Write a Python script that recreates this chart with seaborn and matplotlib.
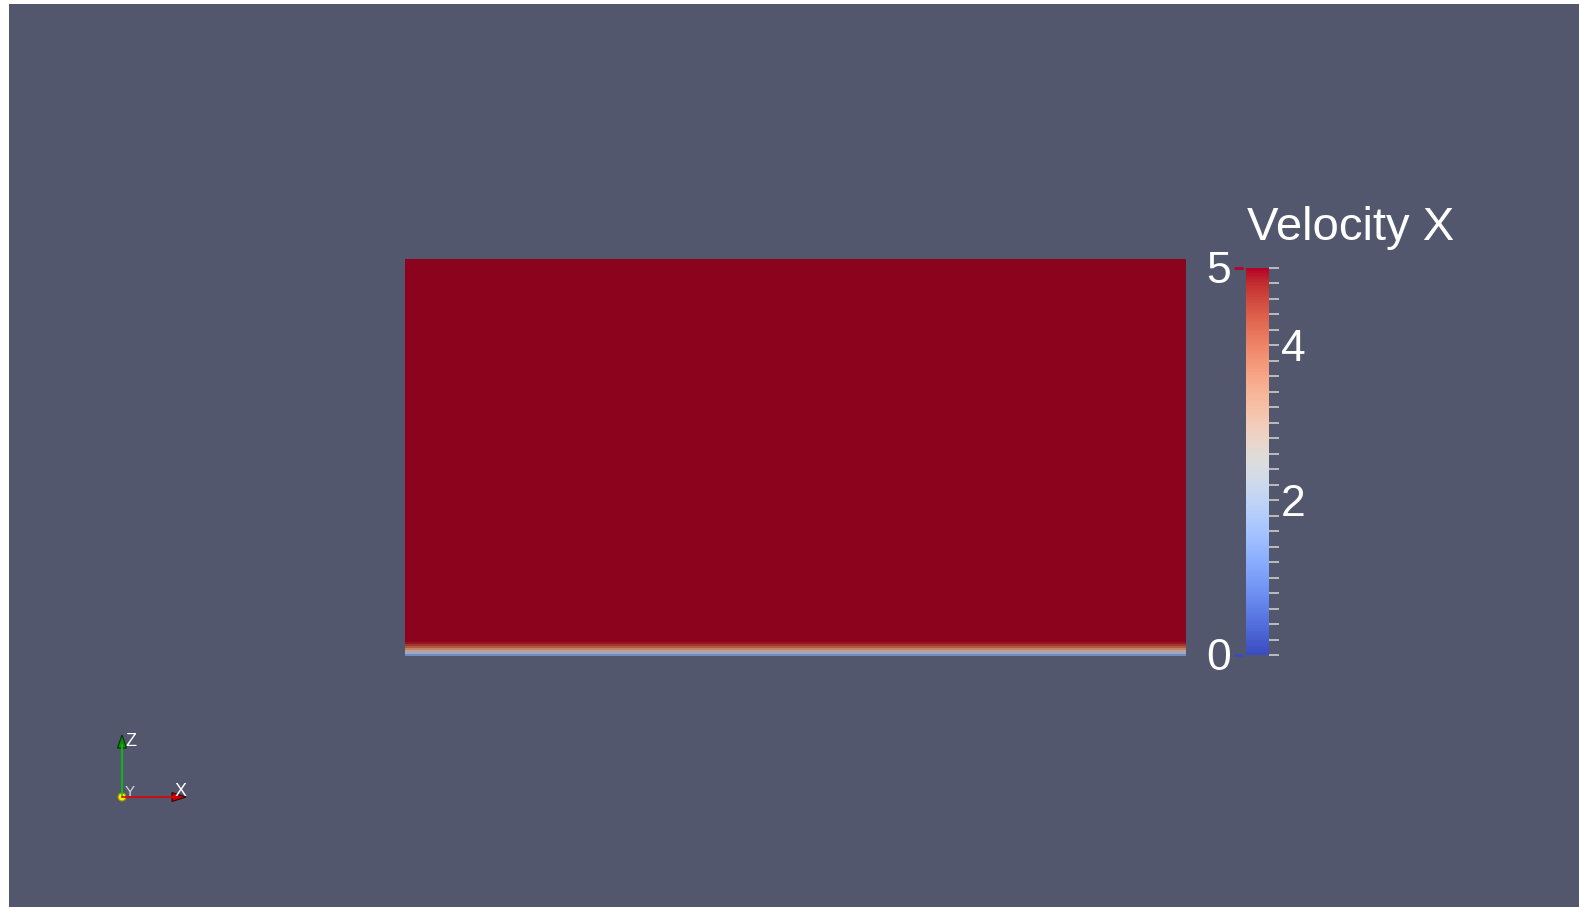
import numpy as np
import matplotlib
matplotlib.use("Agg")
import matplotlib.pyplot as plt
import seaborn as sns
from matplotlib.colors import ListedColormap, Normalize
from matplotlib.cm import ScalarMappable
from matplotlib.patches import Rectangle, Polygon, Circle
from matplotlib.transforms import blended_transform_factory

# --- field data: streamwise velocity over a 2D channel slice ---------------
domain_x = [0.0, 2.0]                       # streamwise extent (m)
z_edges = [0.0, 0.005, 0.010, 0.015, 0.020, 0.025, 0.030, 0.036, 1.0]  # cell faces (m)
velocity_x = [1.3, 2.2, 2.9, 3.6, 4.2, 4.6, 4.9, 5.0]                # cell values (m/s)

# --- colour bar annotation ---------------------------------------------------
v_range = [0.0, 5.0]
major_ticks = [2, 4]
major_labels = ["2", "4"]
minor_step = 0.2
bar_title = "Velocity X"

sns.set_theme(style="white")
plt.rcParams["font.family"] = ["Liberation Sans", "DejaVu Sans"]

W, H = 1579, 907
BG = "#52576E"
fig = plt.figure(figsize=(W / 100, H / 100), dpi=100, facecolor="white")
fig.patches.append(Rectangle((9 / W, 0), 1 - 9 / W, 1 - 4 / H,
                             transform=fig.transFigure, facecolor=BG,
                             edgecolor="none", zorder=-10))

cool_warm = sns.color_palette("coolwarm", as_cmap=True)
# surface shading of the lit slice darkens the rendered colours
shade = 0.78
lut = cool_warm(np.linspace(0, 1, 256))
lut[:, :3] *= shade
surface_cmap = ListedColormap(lut)

# --- the slice ---------------------------------------------------------------
ax = fig.add_axes([405 / W, (H - 656) / H, 781 / W, 397 / H])
vals = np.asarray(velocity_x)[:, None]
ax.pcolormesh(domain_x, z_edges, vals, cmap=surface_cmap,
              vmin=v_range[0], vmax=v_range[1], shading="flat")
ax.set_xlim(domain_x)
ax.set_ylim(z_edges[0], z_edges[-1])
ax.set_axis_off()

# --- colour bar --------------------------------------------------------------
cax = fig.add_axes([1246 / W, (H - 655) / H, 23 / W, 387 / H])
sm = ScalarMappable(norm=Normalize(*v_range), cmap=cool_warm)
cb = fig.colorbar(sm, cax=cax)
cb.outline.set_visible(False)
cb.set_ticks(major_ticks)
cb.set_ticklabels(major_labels)
minor_vals = [v for v in np.round(np.arange(v_range[0], v_range[1] + 1e-9, minor_step), 2)
              if v not in major_ticks]
cax.yaxis.set_minor_locator(matplotlib.ticker.FixedLocator(minor_vals))
tick_col = "#c4c4c4"
cax.tick_params(axis="y", which="minor", length=7.2, width=1.3,
                color=tick_col, direction="out", right=True, left=False)
cax.tick_params(axis="y", which="major", length=14.4, width=1.3,
                color=tick_col, direction="inout", right=True, left=False,
                labelsize=32, labelcolor="white", pad=1.5)

bt = blended_transform_factory(cax.transAxes, cax.transData)
for v, col in [(v_range[1], cool_warm(1.0)), (v_range[0], cool_warm(0.0))]:
    cax.plot([-0.52, -0.13], [v, v], transform=bt, color=col, lw=2,
             clip_on=False, solid_capstyle="butt")
    cax.annotate(f"{v:g}", xy=(0, v), xycoords=bt, xytext=(-11, -2.5),
                 textcoords="offset points", ha="right", va="center",
                 fontsize=32, color="white", annotation_clip=False)

fig.text(1247 / W, (H - 240) / H, bar_title, ha="left", va="baseline",
         fontsize=34, color="white")

# --- orientation triad -------------------------------------------------------
tri = fig.add_axes([100 / W, (H - 810) / H, 100 / W, 90 / H])
tri.set_xlim(100, 200)
tri.set_ylim(810, 720)
tri.set_axis_off()
ox, oy = 122, 797
tri.plot([ox, ox], [oy, 745], color="#00cc00", lw=1.2)
tri.plot([ox, 175], [oy, oy], color="#e00000", lw=1.2)
tri.add_patch(Polygon([(ox - 4.5, 748), (ox + 4.5, 748), (ox, 735)],
                      closed=True, facecolor="#0b8f0b", edgecolor="#003300", lw=0.8))
tri.add_patch(Polygon([(172, oy - 4.5), (172, oy + 4.5), (186, oy)],
                      closed=True, facecolor="#c00000", edgecolor="#400000", lw=0.8))
tri.add_patch(Circle((ox, oy), 4, facecolor="#f5f000", edgecolor="#a09000", lw=0.8))
tri.text(125, 742, "Z", color="white", fontsize=13, ha="left", va="center")
tri.text(175, 791, "X", color="white", fontsize=13, ha="left", va="center")
tri.text(125, 792, "Y", color="#d8d8d8", fontsize=11, ha="left", va="center")

fig.savefig("out.png", dpi=100, facecolor=fig.get_facecolor())
